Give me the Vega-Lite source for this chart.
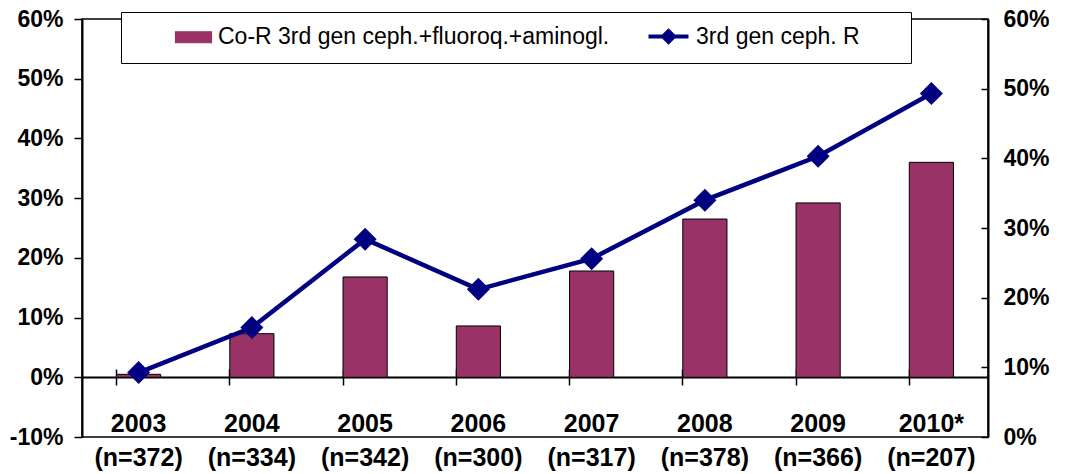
{
  "$schema": "https://vega.github.io/schema/vega-lite/v6.json",
  "width": 906,
  "height": 418,
  "autosize": {"type": "none"},
  "padding": {"left": 82, "top": 19, "right": 77, "bottom": 37},
  "background": "white",
  "config": {
    "font": "Liberation Sans",
    "view": {"stroke": "black", "strokeWidth": 1.5},
    "axis": {
      "grid": false,
      "domainColor": "black",
      "domainWidth": 2,
      "tickColor": "black",
      "tickWidth": 1.5,
      "labelColor": "black",
      "labelFont": "Liberation Sans",
      "labelFontWeight": "bold",
      "title": null
    },
    "legend": {
      "orient": "none",
      "legendX": 39,
      "legendY": -7,
      "direction": "horizontal",
      "titleOrient": "right",
      "titlePadding": 38,
      "titleFontSize": 8,
      "strokeColor": "black",
      "fillColor": "white",
      "padding": 13,
      "labelFont": "Liberation Sans",
      "labelFontSize": 23,
      "labelColor": "black",
      "labelLimit": 0,
      "labelOffset": 13,
      "columnPadding": 2,
      "symbolSize": 400,
      "symbolOffset": 48,
      "symbolStrokeWidth": 1.5
    }
  },
  "data": {
    "values": [
      {"label": "2003|(n=372)", "coR": 0.005, "ceph": 0.0925},
      {"label": "2004|(n=334)", "coR": 0.073, "ceph": 0.157},
      {"label": "2005|(n=342)", "coR": 0.168, "ceph": 0.284},
      {"label": "2006|(n=300)", "coR": 0.086, "ceph": 0.212},
      {"label": "2007|(n=317)", "coR": 0.178, "ceph": 0.256},
      {"label": "2008|(n=378)", "coR": 0.265, "ceph": 0.340},
      {"label": "2009|(n=366)", "coR": 0.292, "ceph": 0.403},
      {"label": "2010*|(n=207)", "coR": 0.360, "ceph": 0.493}
    ]
  },
  "layer": [
    {
      "mark": {"type": "bar", "stroke": "black", "strokeWidth": 1},
      "encoding": {
        "x": {
          "field": "label",
          "type": "nominal",
          "sort": null,
          "scale": {"paddingInner": 0.61, "paddingOuter": 0.305},
          "axis": {
            "orient": "bottom",
            "offset": -60,
            "bandPosition": 0,
            "tickSize": 8,
            "labelAngle": 0,
            "labelFontSize": 25,
            "labelPadding": 26,
            "labelLineHeight": 34,
            "labelOverlap": false,
            "labelExpr": "split(datum.label, '|')"
          }
        },
        "y": {
          "field": "coR",
          "type": "quantitative",
          "scale": {"domain": [-0.1, 0.6], "nice": false, "zero": false},
          "axis": {
            "orient": "left",
            "values": [-0.1, 0, 0.1, 0.2, 0.3, 0.4, 0.5, 0.6],
            "format": ".0%",
            "labelExpr": "replace(datum.label, '\u2212', '-')",
            "tickSize": 8,
            "labelPadding": 11,
            "labelFontSize": 23
          }
        },
        "color": {
          "datum": "Co-R 3rd gen ceph.+fluoroq.+aminogl.",
          "type": "nominal",
          "scale": {
            "domain": ["Co-R 3rd gen ceph.+fluoroq.+aminogl.", "3rd gen ceph. R"],
            "range": ["#993366", "#000080"]
          },
          "legend": {
            "title": " ",
            "encode": {
              "symbols": {
                "update": {
                  "shape": {"signal": "datum.value === '3rd gen ceph. R' ? 'M-2.3,0H1.7M-0.3,-0.55L0.25,0L-0.3,0.55L-0.85,0Z' : 'M-1.8,-0.55H1.8V0.55H-1.8Z'"},
                  "fill": {"signal": "datum.value === '3rd gen ceph. R' ? '#000080' : '#993366'"},
                  "stroke": {"signal": "datum.value === '3rd gen ceph. R' ? '#000080' : '#000000'"},
                  "strokeWidth": {"signal": "datum.value === '3rd gen ceph. R' ? 4 : 1.2"},
                  "opacity": {"value": 1}
                }
              }
            }
          }
        }
      }
    },
    {
      "mark": {
        "type": "line",
        "strokeWidth": 4.5,
        "point": {"shape": "diamond", "size": 529, "filled": true, "opacity": 1}
      },
      "encoding": {
        "x": {
          "field": "label",
          "type": "nominal",
          "sort": null,
          "axis": {
            "orient": "top",
            "offset": -358,
            "bandPosition": 0,
            "tickSize": 8,
            "domain": false,
            "labels": false
          }
        },
        "y": {
          "field": "ceph",
          "type": "quantitative",
          "scale": {"domain": [0, 0.6], "nice": false},
          "axis": {
            "orient": "right",
            "values": [0, 0.1, 0.2, 0.3, 0.4, 0.5, 0.6],
            "format": ".0%",
            "tickSize": -7,
            "labelPadding": 22,
            "labelFontSize": 23
          }
        },
        "color": {
          "datum": "3rd gen ceph. R",
          "type": "nominal",
          "legend": {
            "title": " ",
            "encode": {
              "symbols": {
                "update": {
                  "shape": {"signal": "datum.value === '3rd gen ceph. R' ? 'M-2.3,0H1.7M-0.3,-0.55L0.25,0L-0.3,0.55L-0.85,0Z' : 'M-1.8,-0.55H1.8V0.55H-1.8Z'"},
                  "fill": {"signal": "datum.value === '3rd gen ceph. R' ? '#000080' : '#993366'"},
                  "stroke": {"signal": "datum.value === '3rd gen ceph. R' ? '#000080' : '#000000'"},
                  "strokeWidth": {"signal": "datum.value === '3rd gen ceph. R' ? 4 : 1.2"},
                  "opacity": {"value": 1}
                }
              }
            }
          }
        }
      }
    }
  ],
  "resolve": {"scale": {"y": "independent"}, "axis": {"x": "independent"}}
}
